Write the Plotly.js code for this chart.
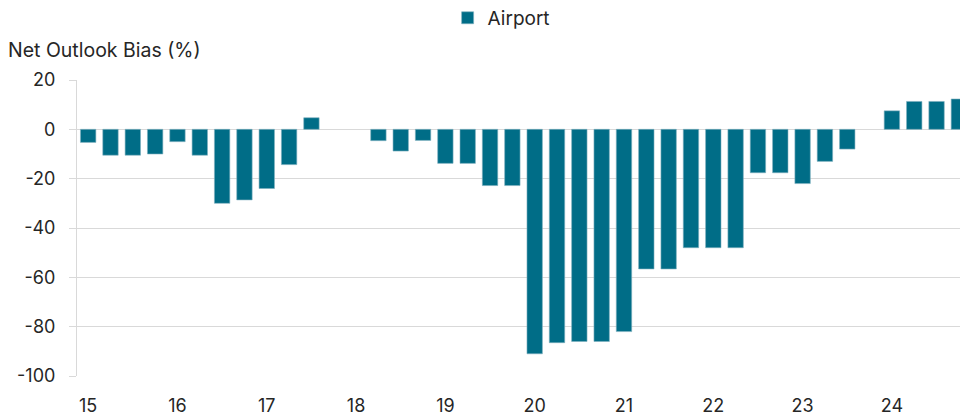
<!DOCTYPE html>
<html><head><meta charset="utf-8">
<script src="https://cdn.plot.ly/plotly-3.0.1.min.js"></script>
<style>html,body{margin:0;padding:0;background:#fff;}#chart{width:960px;height:417px;}</style>
</head><body><div id="chart"></div>
<script>
const quarters = [
 "15Q1","15Q2","15Q3","15Q4","16Q1","16Q2","16Q3","16Q4",
 "17Q1","17Q2","17Q3","17Q4","18Q1","18Q2","18Q3","18Q4",
 "19Q1","19Q2","19Q3","19Q4","20Q1","20Q2","20Q3","20Q4",
 "21Q1","21Q2","21Q3","21Q4","22Q1","22Q2","22Q3","22Q4",
 "23Q1","23Q2","23Q3","23Q4","24Q1","24Q2","24Q3","24Q4"];
const airport = [
 -5.3,-10.5,-10.5,-10,-5,-10.5,-30,-28.6,
 -24,-14.3,4.7,null,null,-4.6,-8.8,-4.5,
 -13.8,-13.8,-22.8,-22.8,-91,-86.5,-86,-86,
 -82,-56.6,-56.6,-48,-48,-48,-17.6,-17.6,
 -22,-13,-8,null,7.5,11.3,11.3,12.3];
const tickCats = ["15Q1","16Q1","17Q1","18Q1","19Q1","20Q1","21Q1","22Q1","23Q1","24Q1"];
const tickLabels = ["15","16","17","18","19","20","21","22","23","24"];
const yTicks = [20,0,-20,-40,-60,-80,-100];
const yTickLabels = ["20","0","-20","-40","-60","-80","-100"];

const FONT = "Inter, 'Open Sans', sans-serif";
const trace = {
  type: "bar", name: "Airport", x: quarters, y: airport,
  marker: {color: "#006d87", line: {color: "#7fb0bf", width: 0.6}},
  width: 0.69
};
const layout = {
  width: 960, height: 417,
  margin: {l: 77, r: 0, t: 80, b: 41},
  paper_bgcolor: "#fff", plot_bgcolor: "#fff",
  font: {family: FONT, color: "#262626", size: 18},
  showlegend: true,
  legend: {orientation: "h", yref: "container", xref: "container", x: 0.522, xanchor: "center",
           y: 0.957, yanchor: "middle", font: {size: 19, color: "#262626"}},
  xaxis: {type: "category", range: [-0.5, 39.05], tickvals: tickCats, ticktext: tickLabels,
          showgrid: false, zeroline: false, showline: false, ticks: "",
          ticklabelstandoff: 17, tickfont: {size: 18}, automargin: false},
  yaxis: {range: [-100, 20], tickvals: yTicks, ticktext: yTickLabels,
          showgrid: true, gridcolor: "#d9d9d9", gridwidth: 1,
          zeroline: true, zerolinecolor: "#d9d9d9", zerolinewidth: 1,
          showline: true, linecolor: "#d9d9d9", linewidth: 1,
          ticks: "outside", ticklen: 7, tickcolor: "#d9d9d9",
          ticklabelstandoff: 10, tickfont: {size: 18}, automargin: false},
  annotations: [{text: "Net Outlook Bias (%)", xref: "paper", yref: "paper", x: -0.080, y: 1.101,
                 xanchor: "left", yanchor: "middle", showarrow: false, font: {size: 19.5, color: "#262626"}}],
  bargap: 0.3
};
Plotly.newPlot("chart", [trace], layout, {displayModeBar: false, staticPlot: true});
</script></body></html>
